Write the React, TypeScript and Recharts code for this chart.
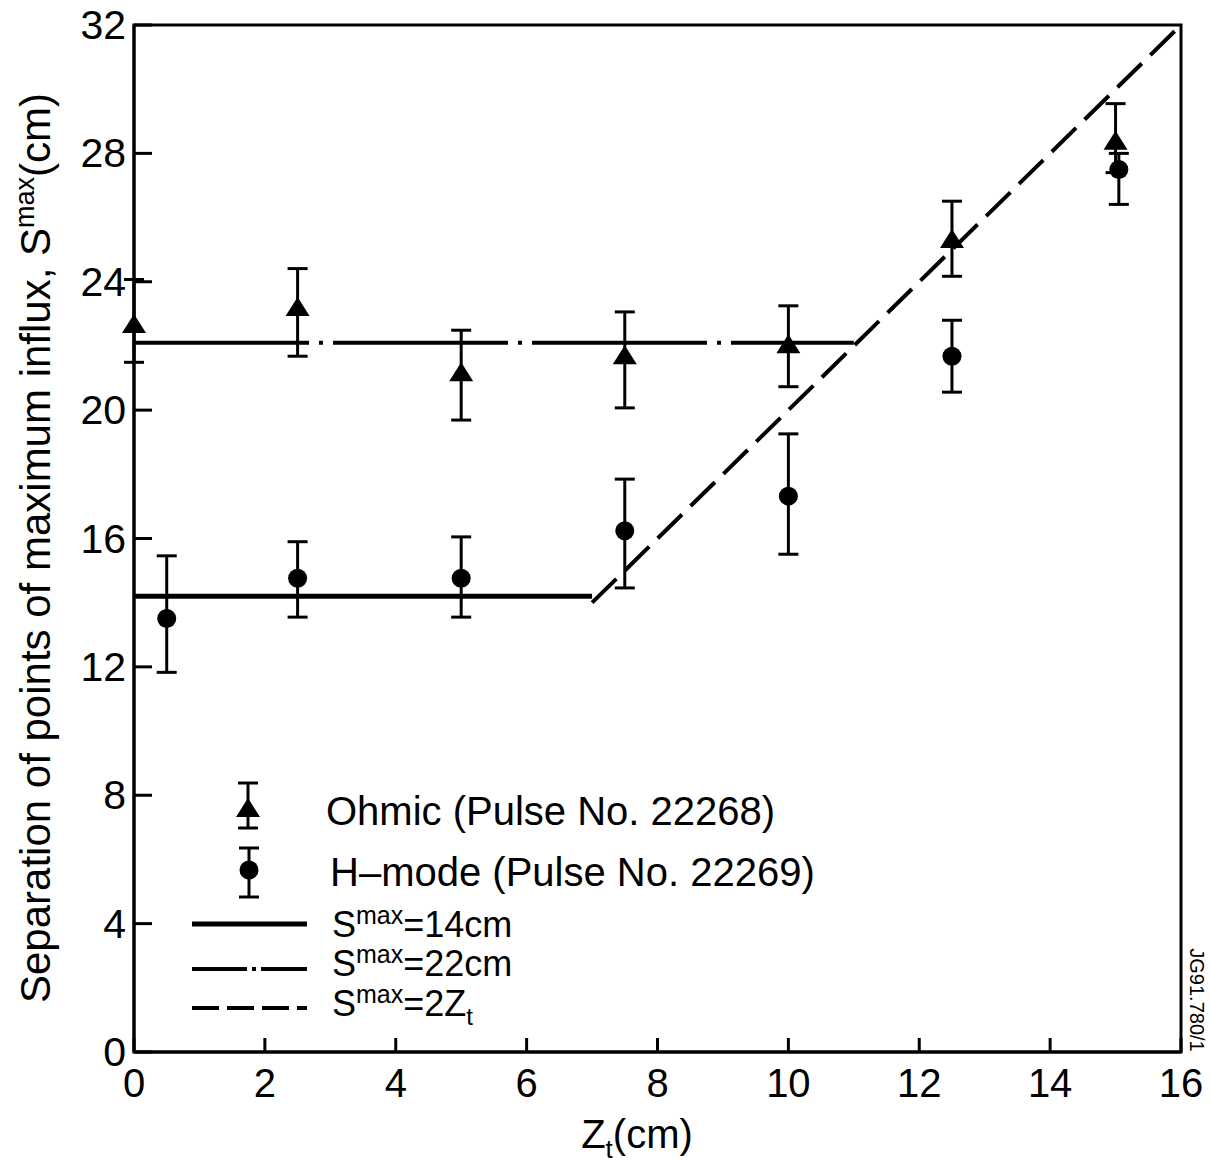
import React from 'react';
import { ComposedChart, XAxis, YAxis, Scatter, Line, ErrorBar, ReferenceArea, Legend, Label } from 'recharts';

// ---- data ----
const xTicks = [0, 2, 4, 6, 8, 10, 12, 14, 16];
const yTicks = [0, 4, 8, 12, 16, 20, 24, 28, 32];

const ohmicX = [0, 2.5, 5, 7.5, 10, 12.5, 15];
const ohmicY = [22.65, 23.18, 21.15, 21.68, 22.02, 25.3, 28.36];
const ohmicLow = [21.49, 21.68, 19.69, 20.07, 20.73, 24.17, 27.4];
const ohmicHigh = [24.07, 24.41, 22.49, 23.06, 23.25, 26.51, 29.55];

const hmodeX = [0.5, 2.5, 5, 7.5, 10, 12.5, 15.05];
const hmodeY = [13.51, 14.76, 14.76, 16.24, 17.32, 21.68, 27.5];
const hmodeLow = [11.83, 13.55, 13.55, 14.46, 15.51, 20.56, 26.41];
const hmodeHigh = [15.46, 15.9, 16.05, 17.85, 19.26, 22.8, 28.0];

const line14X = [0, 7];
const line14Y = [14.2, 14.2];
const line22X = [0, 11];
const line22Y = [22.1, 22.1];
const line2zX = [7, 16];
const line2zY = [14, 32];

const legendLabels = ['Ohmic (Pulse No. 22268)', 'H\u2013mode (Pulse No. 22269)'];

const ohmicData = ohmicX.map((x, i) => ({ x, y: ohmicY[i], err: [ohmicY[i] - ohmicLow[i], ohmicHigh[i] - ohmicY[i]] }));
const hmodeData = hmodeX.map((x, i) => ({ x, y: hmodeY[i], err: [hmodeY[i] - hmodeLow[i], hmodeHigh[i] - hmodeY[i]] }));
const toLine = (xs: number[], ys: number[]) => xs.map((x, i) => ({ x, y: ys[i] }));

const FONT = '"Liberation Sans", Arial, Helvetica, sans-serif';

const TriangleShape = (props: any) => {
  const { cx, cy } = props;
  if (cx == null || cy == null) return null;
  return <polygon points={`${cx},${cy - 11} ${cx - 12},${cy + 8} ${cx + 12},${cy + 8}`} fill="#000" />;
};
const CircleShape = (props: any) => {
  const { cx, cy } = props;
  if (cx == null || cy == null) return null;
  return <circle cx={cx} cy={cy} r={9.5} fill="#000" />;
};

const XTick = (props: any) => {
  const { x, y, payload } = props;
  return (
    <g>
      <line x1={x} y1={y} x2={x} y2={y - 14} stroke="#000" strokeWidth={3} />
      <text x={x} y={y + 45} textAnchor="middle" fontFamily={FONT} fontSize={40} fill="#000">{payload.value}</text>
    </g>
  );
};
const YTick = (props: any) => {
  const { x, y, payload } = props;
  return (
    <g>
      <line x1={x} y1={y} x2={x + 18} y2={y} stroke="#000" strokeWidth={3} />
      <text x={x - 8} y={y + 14} textAnchor="end" fontFamily={FONT} fontSize={41} fill="#000">{payload.value}</text>
    </g>
  );
};

const YLabelContent = () => (
  <text transform="translate(50,548) rotate(-90)" textAnchor="middle" fontFamily={FONT} fontSize={42} fill="#000">
    Separation of points of maximum influx, S
    <tspan fontSize={27} dy={-16}>max</tspan>
    <tspan dy={16}>(cm)</tspan>
  </text>
);
const XLabelContent = () => (
  <text x={637} y={1148} textAnchor="middle" fontFamily={FONT} fontSize={40} fill="#000">
    Z
    <tspan fontSize={26} dy={10}>t</tspan>
    <tspan dy={-10}>(cm)</tspan>
  </text>
);

const Smax = ({ x, y, rest }: { x: number; y: number; rest: React.ReactNode }) => (
  <text x={x} y={y} fontFamily={FONT} fontSize={36} fill="#000">
    S
    <tspan fontSize={25} dy={-13}>max</tspan>
    <tspan dy={13}>{rest}</tspan>
  </text>
);

const LegendContent = () => (
  <svg width={1211} height={1165} style={{ position: 'absolute', left: 0, top: 0 }}>
    {/* Ohmic */}
    <line x1={248} y1={783} x2={248} y2={828} stroke="#000" strokeWidth={3} />
    <line x1={238} y1={783} x2={258} y2={783} stroke="#000" strokeWidth={3} />
    <line x1={238} y1={828} x2={258} y2={828} stroke="#000" strokeWidth={3} />
    <TriangleShape cx={248} cy={809} />
    <text x={326} y={825} fontFamily={FONT} fontSize={40} fill="#000">{legendLabels[0]}</text>
    {/* H-mode */}
    <line x1={249} y1={848} x2={249} y2={897} stroke="#000" strokeWidth={3} />
    <line x1={239} y1={848} x2={259} y2={848} stroke="#000" strokeWidth={3} />
    <line x1={239} y1={897} x2={259} y2={897} stroke="#000" strokeWidth={3} />
    <CircleShape cx={249} cy={870} />
    <text x={330} y={886} fontFamily={FONT} fontSize={40} fill="#000">{legendLabels[1]}</text>
    {/* lines */}
    <line x1={192} y1={924} x2={307} y2={924} stroke="#000" strokeWidth={5} />
    <Smax x={332} y={937} rest="=14cm" />
    <line x1={192} y1={969} x2={307} y2={969} stroke="#000" strokeWidth={4} strokeDasharray="55 5 4 5 60" />
    <Smax x={332} y={976} rest="=22cm" />
    <line x1={192} y1={1008} x2={307} y2={1008} stroke="#000" strokeWidth={4} strokeDasharray="27 8" />
    <text x={332} y={1016} fontFamily={FONT} fontSize={36} fill="#000">
      S
      <tspan fontSize={25} dy={-13}>max</tspan>
      <tspan dy={13}>=2Z</tspan>
      <tspan fontSize={24} dy={9}>t</tspan>
    </text>
    <text transform="translate(1190,1000) rotate(90)" textAnchor="middle" fontFamily={FONT} fontSize={20} fill="#000">JG91.780/1</text>
  </svg>
);

export default function App() {
  return (
    <div style={{ position: 'absolute', left: 0, top: 0, width: 1211, height: 1165, background: '#fff' }}>
      <ComposedChart width={1211} height={1165} margin={{ top: 25, right: 30, left: 0, bottom: 0 }}>
        <XAxis
          type="number"
          dataKey="x"
          domain={[0, 16]}
          ticks={xTicks}
          height={113}
          tickSize={0}
          tickMargin={0}
          tickLine={false}
          tick={<XTick />}
          axisLine={{ stroke: '#000', strokeWidth: 3 }}
        >
          <Label content={<XLabelContent />} />
        </XAxis>
        <YAxis
          type="number"
          dataKey="y"
          domain={[0, 32]}
          ticks={yTicks}
          width={134}
          tickSize={0}
          tickMargin={0}
          tickLine={false}
          tick={<YTick />}
          axisLine={{ stroke: '#000', strokeWidth: 3 }}
        >
          <Label content={<YLabelContent />} />
        </YAxis>
        <ReferenceArea x1={0} x2={16} y1={0} y2={32} fill="none" stroke="#000" strokeWidth={3} ifOverflow="visible" />
        <Line data={toLine(line14X, line14Y)} dataKey="y" stroke="#000" strokeWidth={5} dot={false} isAnimationActive={false} legendType="none" />
        <Line data={toLine(line22X, line22Y)} dataKey="y" stroke="#000" strokeWidth={4} strokeDasharray="175 10 4 10" dot={false} isAnimationActive={false} legendType="none" />
        <Line data={toLine(line2zX, line2zY)} dataKey="y" stroke="#000" strokeWidth={4} strokeDasharray="34 12" dot={false} isAnimationActive={false} legendType="none" />
        <Scatter data={ohmicData} dataKey="y" shape={<TriangleShape />} isAnimationActive={false}>
          <ErrorBar dataKey="err" direction="y" width={10} strokeWidth={3} stroke="#000" isAnimationActive={false} />
        </Scatter>
        <Scatter data={hmodeData} dataKey="y" shape={<CircleShape />} isAnimationActive={false}>
          <ErrorBar dataKey="err" direction="y" width={10} strokeWidth={3} stroke="#000" isAnimationActive={false} />
        </Scatter>
        <Legend
          layout="horizontal"
          verticalAlign="middle"
          align="center"
          content={<LegendContent />}
          wrapperStyle={{ position: 'absolute', left: 0, top: 0, width: 1211, height: 1165, pointerEvents: 'none' }}
        />
      </ComposedChart>
    </div>
  );
}
